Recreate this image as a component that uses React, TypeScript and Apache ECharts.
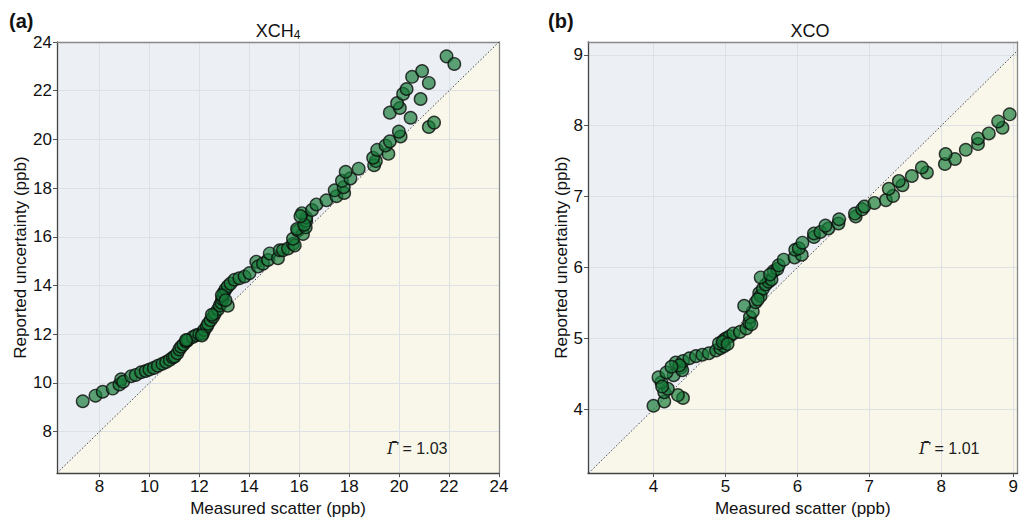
import React, { useEffect, useRef } from 'react';
import * as echarts from 'echarts';

// ---------- data ----------
const xch4Points: [number, number][] = [
  [7.33, 9.25], [7.84, 9.48], [8.13, 9.64], [8.53, 9.77], [8.8, 9.94], [8.87, 10.15], [8.95, 10.05],
  [9.27, 10.28], [9.45, 10.33], [9.67, 10.44], [9.85, 10.49], [10.0, 10.55], [10.18, 10.62], [10.34, 10.71],
  [10.52, 10.79], [10.67, 10.86], [10.82, 10.95], [10.94, 11.05], [11.01, 11.09], [11.12, 11.22], [11.2, 11.38],
  [11.27, 11.49], [11.36, 11.58], [11.47, 11.7], [11.54, 11.76], [11.74, 11.89], [11.87, 11.96], [12.0, 12.0],
  [12.14, 12.03], [12.2, 12.18], [12.3, 12.32], [12.35, 12.43], [12.45, 12.58], [12.55, 12.72], [12.62, 12.85],
  [12.75, 13.03], [12.82, 13.18], [12.88, 13.3], [12.92, 13.45], [12.95, 13.57], [12.98, 13.71], [13.05, 13.85],
  [13.14, 13.97], [13.14, 13.17], [13.25, 14.08], [13.41, 14.24], [13.6, 14.3], [13.81, 14.37], [14.01, 14.51],
  [14.28, 14.98], [14.35, 14.78], [14.55, 14.9], [14.75, 15.05], [14.82, 15.32], [15.15, 15.12], [15.22, 15.45],
  [15.35, 15.45], [15.55, 15.52], [15.75, 15.72], [15.82, 15.65], [15.75, 15.92], [15.95, 16.26], [16.15, 16.12],
  [15.91, 16.32], [16.26, 16.39], [16.28, 16.66], [16.28, 16.79], [16.11, 16.97], [16.51, 17.1], [16.69, 17.33],
  [17.09, 17.5], [17.49, 17.67], [17.8, 17.8], [17.42, 17.91], [17.78, 18.04], [17.71, 18.3], [18.05, 18.4],
  [17.86, 18.67], [18.38, 18.8], [19.0, 18.94], [19.07, 19.11], [18.96, 19.25], [19.57, 19.41], [19.12, 19.57],
  [19.46, 19.75], [19.63, 19.92], [20.06, 20.12], [19.99, 20.32], [21.19, 20.51], [21.4, 20.69], [20.46, 20.89],
  [19.63, 21.1], [20.03, 21.29], [19.92, 21.49], [20.86, 21.66], [20.16, 21.87], [20.3, 22.07], [21.19, 22.32],
  [20.52, 22.57], [20.92, 22.81], [21.9, 23.41], [22.21, 23.1],
  [11.47, 11.76], [12.1, 11.95], [12.5, 12.8], [12.9, 13.6], [13.05, 13.4], [16.2, 16.5], [16.05, 16.85],
];

const xcoPoints: [number, number][] = [
  [4.0, 4.05], [4.15, 4.11], [4.41, 4.16], [4.34, 4.2], [4.15, 4.24], [4.2, 4.29], [4.11, 4.38], [4.07, 4.45],
  [4.28, 4.48], [4.18, 4.52], [4.38, 4.59], [4.4, 4.55], [4.31, 4.66], [4.41, 4.68], [4.36, 4.62], [4.5, 4.72],
  [4.59, 4.75], [4.68, 4.77], [4.77, 4.79], [4.87, 4.83], [4.93, 4.86], [4.98, 4.89], [4.91, 4.93], [4.98, 4.98],
  [5.01, 5.0], [5.06, 5.03], [5.11, 5.07], [5.2, 5.09], [5.29, 5.14], [5.33, 5.22], [5.34, 5.3], [5.38, 5.38],
  [5.42, 5.51], [5.26, 5.46], [5.47, 5.64], [5.49, 5.6], [5.52, 5.7], [5.56, 5.76], [5.6, 5.8], [5.64, 5.83],
  [5.49, 5.86], [5.67, 5.95], [5.72, 5.98], [5.74, 6.03], [5.81, 6.11], [5.96, 6.14], [6.06, 6.18], [5.97, 6.25],
  [6.02, 6.27], [6.07, 6.35], [6.23, 6.43], [6.23, 6.48], [6.32, 6.5], [6.43, 6.55], [6.39, 6.59], [6.57, 6.62],
  [6.58, 6.68], [6.81, 6.72], [6.8, 6.76], [6.9, 6.82], [6.93, 6.86], [7.07, 6.91], [7.23, 6.95], [7.33, 7.01],
  [7.27, 7.11], [7.46, 7.16], [7.41, 7.22], [7.59, 7.29], [7.8, 7.34], [7.73, 7.41], [8.05, 7.46], [8.19, 7.53],
  [8.06, 7.6], [8.34, 7.66], [8.51, 7.74], [8.51, 7.82], [8.66, 7.89], [8.85, 7.97], [8.79, 8.06], [8.95, 8.16],
  [4.96, 4.95], [5.03, 4.92], [5.36, 5.2], [5.45, 5.55], [5.62, 5.9], [4.25, 4.6], [4.12, 4.32],
];

const xch4Ticks = [8, 10, 12, 14, 16, 18, 20, 22, 24];
const xcoTicks = [4, 5, 6, 7, 8, 9];
const xch4Range = [6.3, 24];
const xcoXRange = [3.09, 9.06];
const xcoYRange = [3.1, 9.18];
const xch4Diag = [[6.3, 6.3], [24, 24]];
const xcoDiag = [[3.1, 3.1], [9.06, 9.06]];
const gammaA = '1.03';
const gammaB = '1.01';

// ---------- styles ----------
const FONT = "'Liberation Sans', Arial, Helvetica, sans-serif";
const BLUE_BG = '#ecf0f5';
const CREAM_BG = '#f8f7e9';
const GRID_LINE = '#dde1e5';

function mainAxis(min: number, max: number, ticks: number[], name: string, nameGap: number, gridIndex: number, pos: string) {
  return {
    type: 'value', gridIndex, min, max, position: pos,
    name, nameLocation: 'middle', nameGap,
    nameTextStyle: { fontFamily: FONT, fontSize: 17, color: '#111' },
    z: 3,
    axisLine: { show: true, onZero: false, lineStyle: { color: '#444', width: 1.3 } },
    axisTick: { show: true, customValues: ticks, length: 4, lineStyle: { color: '#555', width: 1 } },
    axisLabel: { customValues: ticks, fontFamily: FONT, fontSize: 17, color: '#111', margin: 5 },
    splitLine: { show: true, lineStyle: { color: GRID_LINE, width: 1 } },
  };
}

function borderAxis(min: number, max: number, gridIndex: number, pos: string) {
  return {
    type: 'value', gridIndex, min, max, position: pos, z: 3,
    axisLine: { show: true, onZero: false, lineStyle: { color: '#888', width: 1.3 } },
    axisTick: { show: false }, axisLabel: { show: false }, splitLine: { show: false },
  };
}

const scatterStyle = {
  color: 'rgba(22,122,56,0.85)',
  borderColor: '#0d0d0d',
  borderWidth: 1.4,
};

function gammaText(x: number, y: number, val: string) {
  return {
    type: 'text', x, y, z: 100,
    style: {
      text: '{g|Γ̄} = ' + val,
      rich: { g: { fontFamily: "'DejaVu Serif', 'Liberation Serif', serif", fontStyle: 'italic', fontSize: 16, fill: '#222' } },
      fontFamily: FONT, fontSize: 16, fill: '#222', verticalAlign: 'middle', align: 'left',
    },
  };
}

export default function App() {
  const ref = useRef<HTMLDivElement>(null);
  useEffect(() => {
    if (!ref.current) return;
    const chart = echarts.init(ref.current, undefined, { renderer: 'svg' });
    chart.setOption({
      animation: false,
      grid: [
        { left: 57, top: 42, width: 442, height: 440, show: true, backgroundColor: BLUE_BG, borderWidth: 0 },
        { left: 588, top: 42, width: 431, height: 440, show: true, backgroundColor: BLUE_BG, borderWidth: 0 },
      ],
      xAxis: [
        mainAxis(xch4Range[0], xch4Range[1], xch4Ticks, 'Measured scatter (ppb)', 21, 0, 'bottom'),
        mainAxis(xcoXRange[0], xcoXRange[1], xcoTicks, 'Measured scatter (ppb)', 21, 1, 'bottom'),
        borderAxis(xch4Range[0], xch4Range[1], 0, 'top'),
        borderAxis(xcoXRange[0], xcoXRange[1], 1, 'top'),
      ],
      yAxis: [
        mainAxis(xch4Range[0], xch4Range[1], xch4Ticks, 'Reported uncertainty (ppb)', 28, 0, 'left'),
        mainAxis(xcoYRange[0], xcoYRange[1], xcoTicks, 'Reported uncertainty (ppb)', 17, 1, 'left'),
        borderAxis(xch4Range[0], xch4Range[1], 0, 'right'),
        borderAxis(xcoYRange[0], xcoYRange[1], 1, 'right'),
      ],
      series: [
        { type: 'line', xAxisIndex: 0, yAxisIndex: 0, data: xch4Diag, symbol: 'none', silent: true, z: 1,
          lineStyle: { width: 0 }, areaStyle: { color: CREAM_BG, opacity: 1, origin: 'start' } },
        { type: 'line', xAxisIndex: 1, yAxisIndex: 1, data: xcoDiag, symbol: 'none', silent: true, z: 1,
          lineStyle: { width: 0 }, areaStyle: { color: CREAM_BG, opacity: 1, origin: 'start' } },
        { type: 'line', xAxisIndex: 0, yAxisIndex: 0, data: xch4Diag, symbol: 'none', silent: true, z: 4,
          lineStyle: { color: '#444', width: 1, type: [1.5, 2] } },
        { type: 'line', xAxisIndex: 1, yAxisIndex: 1, data: xcoDiag, symbol: 'none', silent: true, z: 4,
          lineStyle: { color: '#444', width: 1, type: [1.5, 2] } },
        { type: 'scatter', xAxisIndex: 0, yAxisIndex: 0, data: xch4Points, symbolSize: 12.5, z: 5, itemStyle: scatterStyle },
        { type: 'scatter', xAxisIndex: 1, yAxisIndex: 1, data: xcoPoints, symbolSize: 12.5, z: 5, itemStyle: scatterStyle },
      ],
      graphic: [
        { type: 'text', x: 9, y: 21, z: 100, style: { text: '(a)', fontFamily: FONT, fontWeight: 'bold', fontSize: 20, fill: '#111', verticalAlign: 'middle' } },
        { type: 'text', x: 548, y: 21, z: 100, style: { text: '(b)', fontFamily: FONT, fontWeight: 'bold', fontSize: 20, fill: '#111', verticalAlign: 'middle' } },
        { type: 'text', x: 278, y: 31, z: 100, style: { text: 'XCH{s|4}', align: 'center', verticalAlign: 'middle', fontFamily: FONT, fontSize: 18, fill: '#111',
            rich: { s: { fontFamily: FONT, fontSize: 12, fill: '#111', verticalAlign: 'bottom', padding: [8, 0, 0, 0] } } } },
        { type: 'text', x: 810, y: 31, z: 100, style: { text: 'XCO', align: 'center', verticalAlign: 'middle', fontFamily: FONT, fontSize: 18, fill: '#111' } },
        gammaText(387, 448, gammaA),
        gammaText(919, 448, gammaB),
      ],
    });
    return () => chart.dispose();
  }, []);
  return <div ref={ref} style={{ position: 'absolute', left: 0, top: 0, width: 1021, height: 522 }} />;
}
